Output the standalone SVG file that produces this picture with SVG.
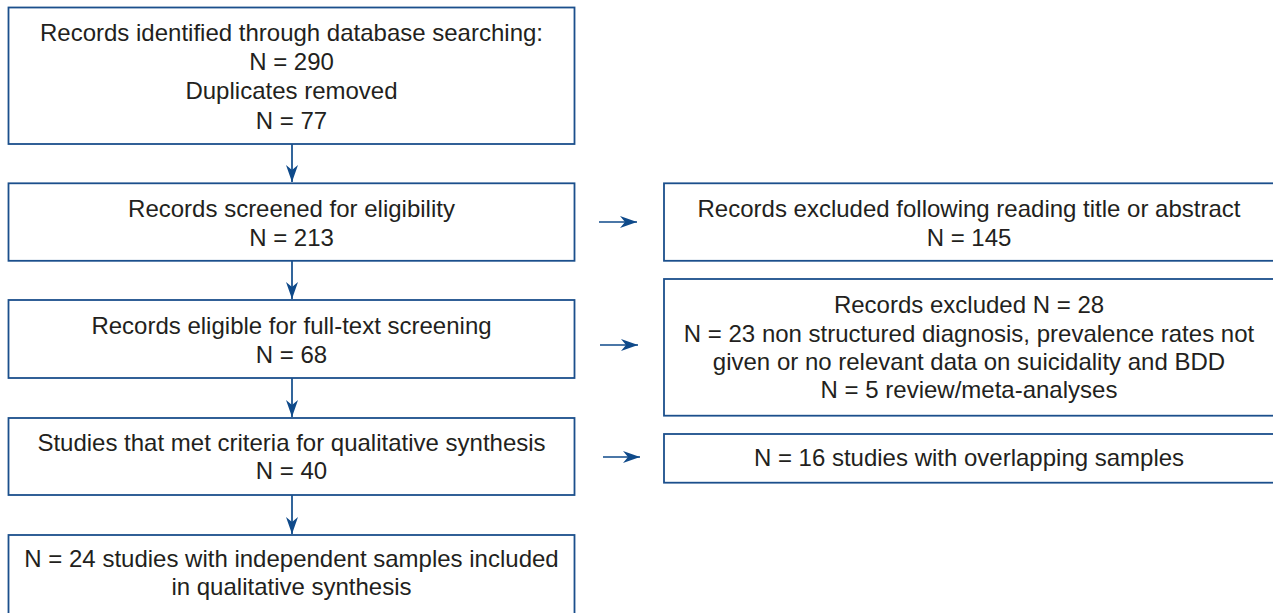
<svg xmlns="http://www.w3.org/2000/svg" width="1273" height="613" viewBox="0 0 1273 613">
<style>
.box{fill:#fff;stroke:#1b4f8c;stroke-width:1.8}
.t{font-family:"Liberation Sans",Arial,sans-serif;font-size:24px;fill:#231f20;text-anchor:middle}
.c{stroke:#0f4a8a;stroke-width:1.7;fill:none}
</style>
<defs>
<marker id="ah" markerUnits="userSpaceOnUse" markerWidth="18" markerHeight="13" viewBox="0 0 18 13" refX="17" refY="6.5" orient="auto">
<path d="M0,0.5 L17,6.5 L0,12.5 L5,6.5 Z" fill="#0f4a8a"/>
</marker>
</defs>
<rect width="1273" height="613" fill="#fff"/>
<g id="connectors">
<line class="c" x1="292" y1="144" x2="292" y2="182" marker-end="url(#ah)"/>
<line class="c" x1="292" y1="261" x2="292" y2="299" marker-end="url(#ah)"/>
<line class="c" x1="292" y1="378" x2="292" y2="417" marker-end="url(#ah)"/>
<line class="c" x1="292" y1="495" x2="292" y2="534" marker-end="url(#ah)"/>
<line class="c" x1="599" y1="222" x2="637" y2="222" marker-end="url(#ah)"/>
<line class="c" x1="600" y1="345" x2="638" y2="345" marker-end="url(#ah)"/>
<line class="c" x1="603" y1="457" x2="640" y2="457" marker-end="url(#ah)"/>
</g>
<g id="n1">
<rect class="box" x="8.5" y="7.5" width="566" height="136.5"/>
<text class="t" x="291.5" y="40.5">Records identified through database searching:</text>
<text class="t" x="291.5" y="70">N = 290</text>
<text class="t" x="291.5" y="99">Duplicates removed</text>
<text class="t" x="291.5" y="129">N = 77</text>
</g>
<g id="n2">
<rect class="box" x="8.5" y="183.3" width="566" height="77.5"/>
<text class="t" x="291.5" y="217.3">Records screened for eligibility</text>
<text class="t" x="291.5" y="246">N = 213</text>
</g>
<g id="n3">
<rect class="box" x="8.5" y="300" width="566" height="78"/>
<text class="t" x="291.5" y="334">Records eligible for full-text screening</text>
<text class="t" x="291.5" y="363">N = 68</text>
</g>
<g id="n4">
<rect class="box" x="8.5" y="418" width="566" height="77"/>
<text class="t" x="291.5" y="450.5">Studies that met criteria for qualitative synthesis</text>
<text class="t" x="291.5" y="479">N = 40</text>
</g>
<g id="n5">
<rect class="box" x="8.5" y="535" width="566" height="80"/>
<text class="t" x="291.5" y="566.5">N = 24 studies with independent samples included</text>
<text class="t" x="291.5" y="595">in qualitative synthesis</text>
</g>
<g id="r1">
<rect class="box" x="664" y="183.3" width="612" height="77.5"/>
<text class="t" x="969" y="217.3">Records excluded following reading title or abstract</text>
<text class="t" x="969" y="246">N = 145</text>
</g>
<g id="r2">
<rect class="box" x="664" y="279" width="612" height="136.7"/>
<text class="t" x="969" y="312.7">Records excluded N = 28</text>
<text class="t" x="969" y="341.5">N = 23 non structured diagnosis, prevalence rates not</text>
<text class="t" x="969" y="370">given or no relevant data on suicidality and BDD</text>
<text class="t" x="969" y="398">N = 5 review/meta-analyses</text>
</g>
<g id="r3">
<rect class="box" x="664" y="434" width="612" height="48.7"/>
<text class="t" x="969" y="466">N = 16 studies with overlapping samples</text>
</g>
</svg>
